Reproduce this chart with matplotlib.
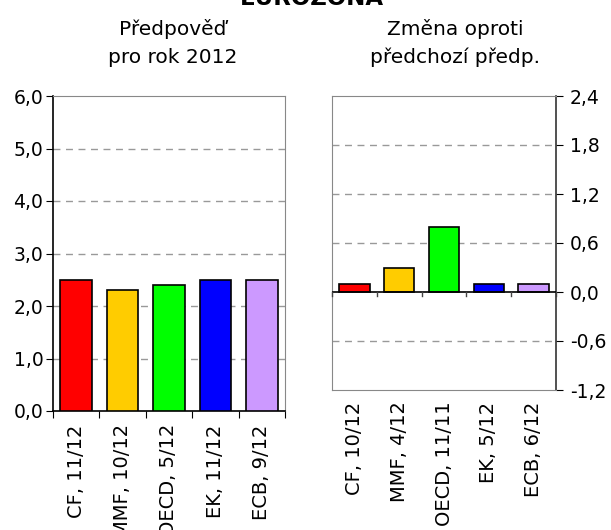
import matplotlib
matplotlib.use("Agg")
import matplotlib.pyplot as plt
import numpy as np

plt.rcParams['font.family'] = ['DejaVu Sans']

title = "EUROZÓNA"
left_title = ["Předpověď", "pro rok 2012"]
right_title = ["Změna oproti", "předchozí předp."]
left_labels = ["CF, 11/12", "MMF, 10/12", "OECD, 5/12", "EK, 11/12", "ECB, 9/12"]
left_values = [2.5, 2.3, 2.4, 2.5, 2.5]
right_labels = ["CF, 10/12", "MMF, 4/12", "OECD, 11/11", "EK, 5/12", "ECB, 6/12"]
right_values = [0.1, 0.3, 0.8, 0.1, 0.1]
colors = ["#FF0000", "#FFCC00", "#00FF00", "#0000FF", "#CC99FF"]
left_ticks = [0, 1, 2, 3, 4, 5, 6]
right_ticks = [-1.2, -0.6, 0.0, 0.6, 1.2, 1.8, 2.4]

W, H = 611, 530
fig = plt.figure(figsize=(W/100, H/100), dpi=100)

def fmt(v):
    return f"{v:.1f}".replace(".", ",")

grid_col = "#999999"
tfs = 13.5   # tick label size
xfs = 14     # category label size
sfs = 14.5   # subtitle size

# Left axes
axL = fig.add_axes([53/W, 1-411/H, (285-53)/W, (411-96)/H])
x = np.arange(len(left_values))
axL.bar(x, left_values, width=0.68, color=colors, edgecolor="black", linewidth=1.2, zorder=3)
axL.set_xlim(-0.5, len(left_values)-0.5)
axL.set_ylim(0, 6)
axL.set_yticks(left_ticks)
axL.set_yticklabels([fmt(v) for v in left_ticks], fontsize=tfs)
for v in left_ticks[1:-1]:
    axL.axhline(v, color=grid_col, linestyle=(0, (5, 4)), linewidth=1, zorder=1)
axL.set_xticks(np.arange(len(left_values)+1)-0.5)
axL.set_xticklabels([])
axL.tick_params(axis='x', direction='out', length=5, color='black')
axL.tick_params(axis='y', direction='out', length=5, color='black', pad=2)
for i, lab in enumerate(left_labels):
    axL.text(i, -0.25, lab, rotation=90, ha='center', va='top', fontsize=xfs,
             transform=axL.transData, clip_on=False)
axL.spines['left'].set_color('black')
axL.spines['bottom'].set_color('black')
axL.spines['left'].set_linewidth(1.2)
axL.spines['bottom'].set_linewidth(1.2)
axL.spines['top'].set_color('#888888')
axL.spines['right'].set_color('#888888')

# Right axes
axR = fig.add_axes([332/W, 1-390/H, (556-332)/W, (390-96)/H])
x = np.arange(len(right_values))
axR.bar(x, right_values, width=0.68, color=colors, edgecolor="black", linewidth=1.2, zorder=3)
axR.set_xlim(-0.5, len(right_values)-0.5)
axR.set_ylim(-1.2, 2.4)
axR.yaxis.tick_right()
axR.set_yticks(right_ticks)
axR.set_yticklabels([fmt(v) for v in right_ticks], fontsize=tfs)
for v in [-0.6, 0.6, 1.2, 1.8]:
    axR.axhline(v, color=grid_col, linestyle=(0, (5, 4)), linewidth=1, zorder=1)
axR.axhline(0, color='black', linewidth=1.2, zorder=4)
axR.set_xticks([])
for b in np.arange(len(right_values)+1)-0.5:
    axR.plot([b, b], [0, -0.05], color='#444444', linewidth=1, zorder=4, clip_on=False)
axR.tick_params(axis='y', direction='out', length=5, color='black', pad=5)
for i, lab in enumerate(right_labels):
    axR.text(i, -1.34, lab, rotation=90, ha='center', va='top', fontsize=xfs,
             transform=axR.transData, clip_on=False)
axR.spines['right'].set_color('#333333')
axR.spines['right'].set_linewidth(1.2)
axR.spines['left'].set_color('#888888')
axR.spines['top'].set_color('#888888')
axR.spines['bottom'].set_color('#888888')

fig.text(312/W, 1-5/H, title, ha='center', va='baseline', fontsize=16.5, fontweight='bold')
fig.text(173/W, 1-35/H, left_title[0], ha='center', va='baseline', fontsize=sfs)
fig.text(173/W, 1-63/H, left_title[1], ha='center', va='baseline', fontsize=sfs)
fig.text(455/W, 1-35/H, right_title[0], ha='center', va='baseline', fontsize=sfs)
fig.text(455/W, 1-63/H, right_title[1], ha='center', va='baseline', fontsize=sfs)

fig.savefig("out.png", dpi=100)
